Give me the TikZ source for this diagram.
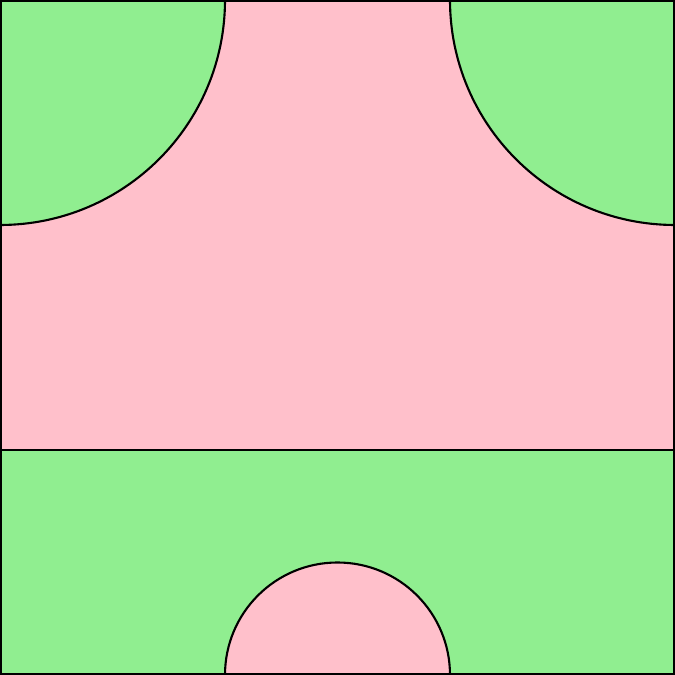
\documentclass[tikz,border=0pt]{standalone}
\definecolor{pinkc}{HTML}{FFC0CB}
\definecolor{greenc}{HTML}{90EE90}
\tikzset{edge/.style={draw=black,line width=0.6pt}}
\begin{document}
\begin{tikzpicture}
\useasboundingbox (0,0) rectangle (6.75,6.75);
% top pink region
\fill[pinkc] (0,2.25) rectangle (6.75,6.75);
% bottom green region
\fill[greenc] (0,0) rectangle (6.75,2.25);
% top-left quarter circle
\fill[greenc] (0,6.75) -- (2.25,6.75) arc[start angle=0,end angle=-90,radius=2.25] -- cycle;
% top-right quarter circle
\fill[greenc] (6.75,6.75) -- (4.5,6.75) arc[start angle=180,end angle=270,radius=2.25] -- cycle;
% bottom semicircle
\fill[pinkc] (2.25,0) arc[start angle=180,end angle=0,radius=1.125] -- cycle;
% outlines
\draw[edge] (2.25,6.75) arc[start angle=0,end angle=-90,radius=2.25];
\draw[edge] (4.5,6.75) arc[start angle=180,end angle=270,radius=2.25];
\draw[edge] (2.25,0) arc[start angle=180,end angle=0,radius=1.125];
\draw[edge] (0,2.25) -- (6.75,2.25);
\draw[edge,line width=1.2pt] (0,0) rectangle (6.75,6.75);
\end{tikzpicture}
\end{document}
